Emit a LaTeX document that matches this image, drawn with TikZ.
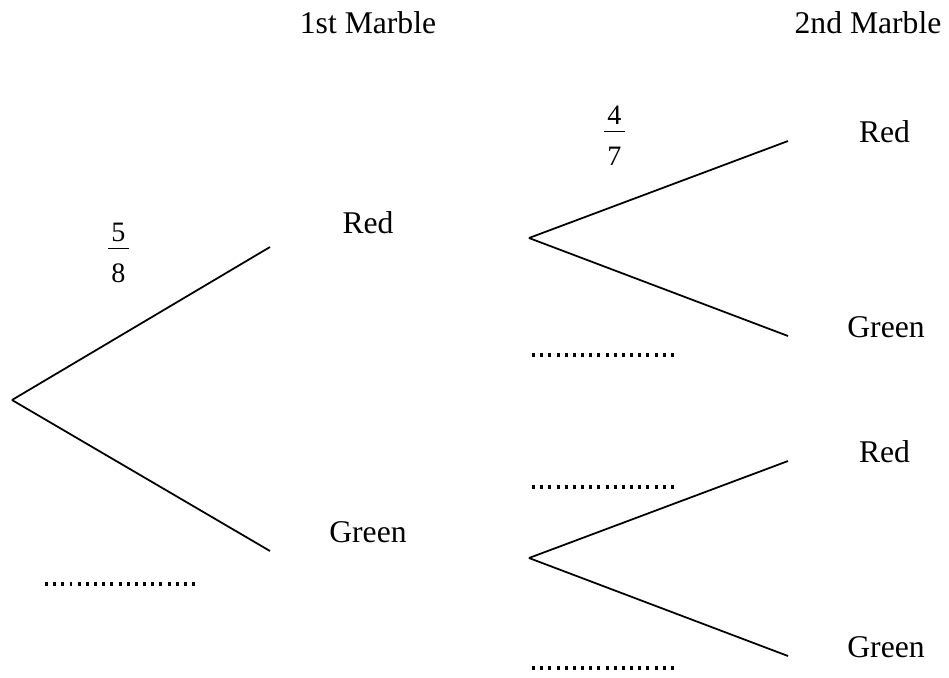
\documentclass[tikz,border=0pt]{standalone}
\usepackage{fontspec}
\setmainfont{Liberation Serif}

\begin{document}
\begin{tikzpicture}[x = 0.02cm, y = -0.02cm, line width = 1pt,
	lbl/.style = {anchor = base, font = \fontsize{18}{22}\selectfont},
	prob/.style = {align = center, font = \fontsize{16}{11.65}\selectfont},
	blank/.style = {line width = 1.8pt, dash pattern = on 1.7pt off 2.95pt}]

	% Definitions

	\def\pfrac#1#2{#1\\\rule[7.3pt]{12pt}{0.8pt}\\#2}	% Stacked fraction

	\useasboundingbox (0, 0) rectangle (949, 677);

	% Headings

	\node [lbl] (first) at (368, 33) {1st Marble};
	\node [lbl] (second) at (868, 33) {2nd Marble};

	% First marble

	\coordinate (start) at (12, 400);
	\coordinate (r1) at (270, 247);
	\coordinate (g1) at (270, 551);

	\draw (start) -- (r1);
	\draw (start) -- (g1);

	\node [lbl] (red1) at (368, 233) {Red};
	\node [lbl] (green1) at (368, 542) {Green};

	\node [prob] (p58) at (118.5, 253) {\pfrac{5}{8}};

	% Second marble after red

	\coordinate (fromr) at (529, 238);
	\coordinate (rr) at (788, 141);
	\coordinate (rg) at (788, 336);

	\draw (fromr) -- (rr);
	\draw (fromr) -- (rg);

	\node [lbl] (red2) at (884.5, 142) {Red};
	\node [lbl] (green2) at (886, 337) {Green};

	\node [prob] (p47) at (614.5, 136) {\pfrac{4}{7}};

	% Second marble after green

	\coordinate (fromg) at (529, 558);
	\coordinate (gr) at (788, 461);
	\coordinate (gg) at (788, 656);

	\draw (fromg) -- (gr);
	\draw (fromg) -- (gg);

	\node [lbl] (red3) at (884.5, 462) {Red};
	\node [lbl] (green3) at (886, 657) {Green};

	% Blanks

	\coordinate (b1l) at (45, 584);		\coordinate (b1r) at (196, 584);
	\coordinate (b2l) at (532, 355);	\coordinate (b2r) at (679, 355);
	\coordinate (b3l) at (532, 487);	\coordinate (b3r) at (679, 487);
	\coordinate (b4l) at (532, 668);	\coordinate (b4r) at (679, 668);

	\foreach \b in {1, ..., 4}
		\draw [blank] (b\b l) -- (b\b r);

\end{tikzpicture}
\end{document}
